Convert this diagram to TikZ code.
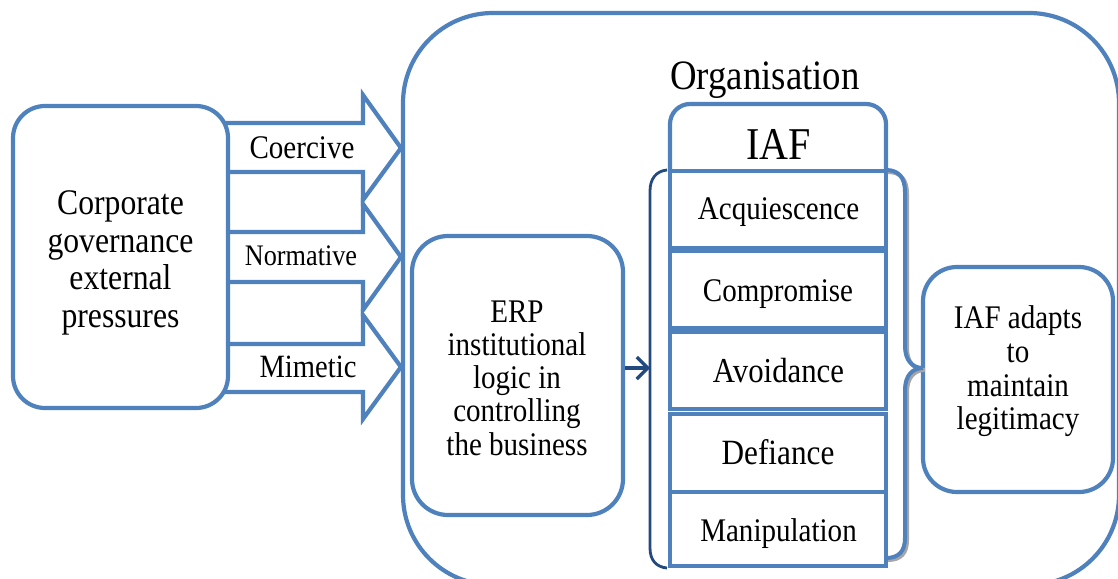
\documentclass[tikz,border=0pt]{standalone}
\usepackage{fontspec}
\setmainfont{Liberation Serif}[FakeStretch=0.88]
\usetikzlibrary{arrows.meta}
\definecolor{boxblue}{HTML}{4F81BD}
\definecolor{darkblue}{HTML}{234A7E}
\definecolor{shadowgray}{HTML}{A6A6A6}
\newcommand\setfs[2]{\fontsize{#1}{#2}\selectfont}

\begin{document}
\begin{tikzpicture}[x=1pt,y=-1pt,
  line/.style={draw=boxblue, line width=4.2pt},
  rbox/.style={line, fill=white, rounded corners=#1, inner sep=0pt},
  cell/.style={line, fill=white, minimum width=216pt, inner sep=0pt},
  blockarrow/.style={line, fill=white, line join=miter},
  word/.style={anchor=base, inner sep=0pt, font=\setfs{#1}{#1}},
  para/.style={align=center, inner sep=0pt, font=\setfs{33}{#1}},
]
\clip (0,0) rectangle (1118,578);

% organisation frame
\node[rbox=90pt, minimum width=716pt, minimum height=572pt] (org) at (761,299) {};

% three pressure arrows
\draw[blockarrow] (222,123) -- (363,123) -- (363,95) -- (401,148) -- (363,200) -- (363,172) -- (222,172) -- cycle;
\draw[blockarrow] (222,232) -- (363,232) -- (363,204) -- (401,257) -- (363,310) -- (363,282) -- (222,282) -- cycle;
\draw[blockarrow] (222,344) -- (363,344) -- (363,315) -- (401,367) -- (363,419) -- (363,392) -- (222,392) -- cycle;

% rounded boxes
\node[rbox=32pt, minimum width=215pt, minimum height=302pt] (corp) at (120.5,257) {};
\node[rbox=36pt, minimum width=211pt, minimum height=279pt] (erp) at (517.5,375.5) {};
\node[rbox=34pt, minimum width=190pt, minimum height=225pt] (adapt) at (1018,379.5) {};

% IAF header with rounded top
\draw[line, fill=white, rounded corners=20pt] (670,171) -- (670,104) -- (886,104) -- (886,171);

% response strategies
\node[cell, minimum height=77pt] (acq) at (778,209.5) {};
\node[cell, minimum height=77pt] (comp) at (778,289.5) {};
\node[cell, minimum height=77pt] (avoid) at (778,370.5) {};
\node[cell, minimum height=78pt] (def) at (778,453) {};
\node[cell, minimum height=74pt] (manip) at (778,529) {};

% left bracket and incoming arrow
\coordinate (brk) at (650,368);
\draw[darkblue, line width=2.8pt] (667,170) .. controls (656,171) and (650,179) .. (650,191)
  -- (650,548) .. controls (650,560) and (656,567) .. (667,568);
\draw[darkblue, line width=3.2pt, -{Straight Barb[length=11pt, width=22pt]}] (erp.east |- brk) -- (brk);

% right brace with soft shadow
\coordinate (tip) at (923,368);
\draw[shadowgray, line width=4pt, shift={(2,2)}] (886,170) .. controls (899,170) and (905,178) .. (905,192)
  -- (905,346) .. controls (905,360) and (912,368) .. (923,368)
  .. controls (912,368) and (905,376) .. (905,390)
  -- (905,538) .. controls (905,551) and (899,558) .. (886,558);
\draw[boxblue, line width=4pt] (886,170) .. controls (899,170) and (905,178) .. (905,192)
  -- (905,346) .. controls (905,360) and (912,368) .. (tip)
  .. controls (912,368) and (905,376) .. (905,390)
  -- (905,538) .. controls (905,551) and (899,558) .. (886,558);

% labels
\node[word=33] (tcoer) at (302,158) {Coercive};
\node[word=29.8] (tnorm) at (301,265) {Normative};
\node[word=32.5] (tmim) at (308,377) {Mimetic};
\node[word=41.8] (torg) at (765,89) {Organisation};
\node[word=45.5] (tiaf) at (778.5,159) {IAF};
\node[word=33] (tacq) at (778.5,219) {Acquiescence};
\node[word=33] (tcomp) at (778,301) {Compromise};
\node[word=35] (tavoid) at (778.5,382) {Avoidance};
\node[word=35.5] (tdef) at (778,464) {Defiance};
\node[word=33] (tmanip) at (778.5,541) {Manipulation};

\node[para=37.5, font=\setfs{36}{37.5}] (tcorp) at (120.5,263) {Corporate\\governance\\external\\pressures};
\node[para=33.2] (terp) at (517,378) {ERP\\institutional\\logic in\\controlling\\the business};
\node[para=33.7] (tadapt) at (1018,371.5) {IAF adapts\\to\\maintain\\legitimacy};
\end{tikzpicture}
\end{document}
